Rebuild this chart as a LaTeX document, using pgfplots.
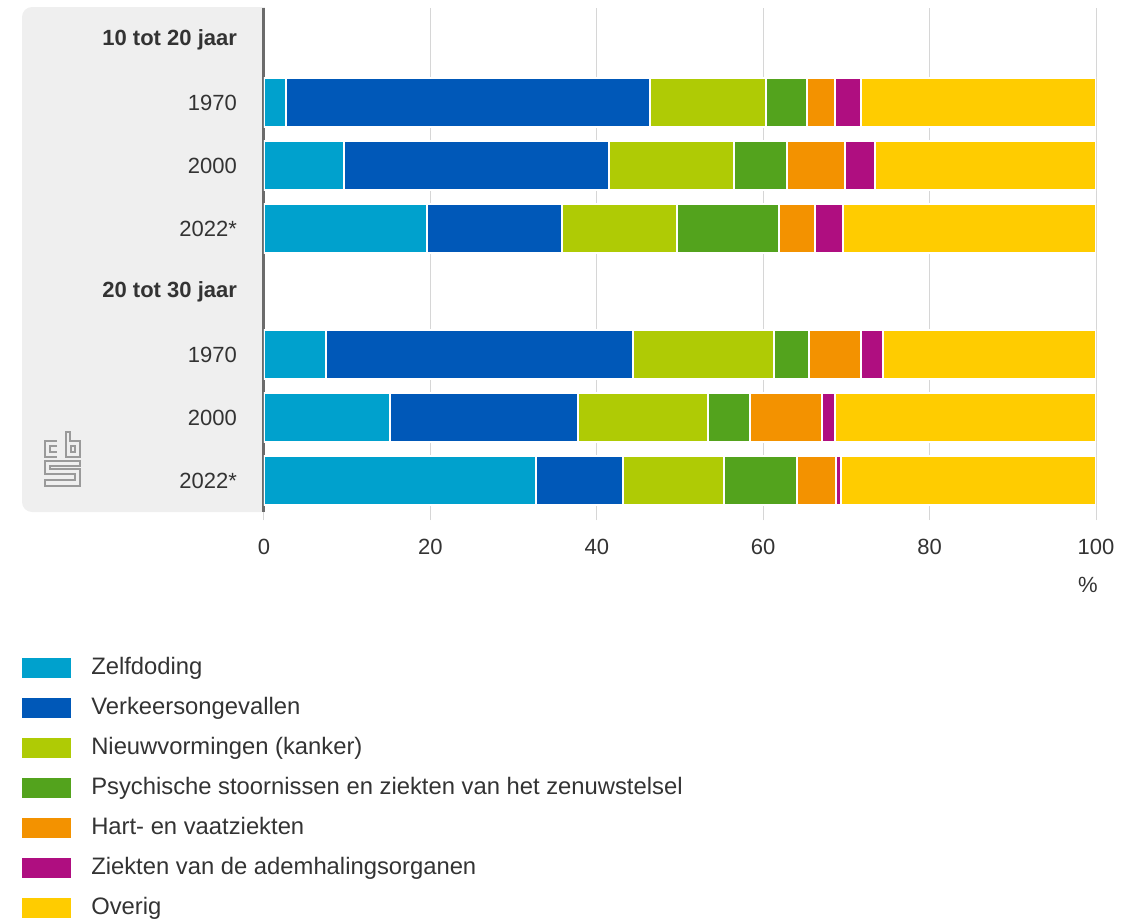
\documentclass[border=0pt]{standalone}
\usepackage{fontspec}
\setmainfont{Liberation Sans}
\usepackage{pgfplots}
\usepackage{pgfplotstable}
\pgfplotsset{compat=1.18}

\definecolor{zelf}{HTML}{00A1CD}
\definecolor{verk}{HTML}{0058B8}
\definecolor{nieuw}{HTML}{AFCB05}
\definecolor{psych}{HTML}{53A31D}
\definecolor{hart}{HTML}{F39200}
\definecolor{adem}{HTML}{AF0E80}
\definecolor{overig}{HTML}{FFCC00}
\definecolor{panel}{HTML}{EFEFEF}
\definecolor{gridgray}{HTML}{D6D6D6}
\definecolor{axisgray}{HTML}{6B6B6B}
\definecolor{logogray}{HTML}{9A9A9A}
\definecolor{txt}{HTML}{333333}

% rij, zelfdoding, verkeer, nieuwvormingen, psychisch, hart, ademhaling, overig
\pgfplotstableread{
y z v n p h a o
2 2.6 43.8 13.9 5.0 3.3 3.1 28.3
3 9.6 31.9 15.0 6.4 6.9 3.6 26.6
4 19.6 16.2 13.8 12.3 4.3 3.4 30.4
6 7.5 36.9 16.9 4.2 6.2 2.7 25.6
7 15.1 22.6 15.7 5.0 8.7 1.5 31.4
8 32.7 10.5 12.1 8.8 4.6 0.6 30.7
}\data

\begin{document}
\begin{tikzpicture}
% pixel grid of the reference: 1 px = 0.5pt, y downwards
\begin{scope}[x=0.5pt,y=-0.5pt]
\useasboundingbox (0,0) rectangle (1137,918);
\fill[panel,rounded corners=5pt] (22,7) rectangle (290,512);
\fill[white] (265,0) rectangle (300,520);
% cbs logo
\begin{scope}[draw=logogray,line width=1.1pt]
\draw (57,441) -- (45,441) -- (45,457) -- (57,457);
\draw (57,446) -- (50,446) -- (50,452) -- (57,452);
\draw (66,432) -- (66,457) -- (80,457) -- (80,441) -- (70,441) -- (70,432) -- cycle;
\draw (71,446) rectangle (75,452);
\draw (80,461) -- (45,461) -- (45,474) -- (75,474) -- (75,480) -- (45,480) -- (45,486) -- (80,486) -- (80,469) -- (50,469) -- (50,466) -- (80,466) -- cycle;
\end{scope}
\node[anchor=east, text=txt, font=\fontsize{11}{13}\selectfont, inner sep=0pt] at (1098,585) {\%};
\end{scope}
\begin{axis}[
    at={(132pt,-256pt)}, anchor=south west,
    scale only axis, width=416pt, height=252pt,
    xbar stacked, bar width=24.5pt,
    xmin=0, xmax=100, ymin=0.5, ymax=8.5, y dir=reverse,
    axis x line*=bottom, axis y line*=left,
    x axis line style={draw=none},
    y axis line style={draw=axisgray, line width=1.5pt},
    xtick={0,20,40,60,80,100},
    xmajorgrids, grid style={gridgray, line width=0.5pt},
    x tick style={gridgray, line width=0.5pt}, xtick align=outside,
    major tick length=4pt,
    ytick={1,...,8},
    yticklabels={\textbf{10 tot 20 jaar},1970,2000,2022*,\textbf{20 tot 30 jaar},1970,2000,2022*},
    y tick style={draw=none},
    ticklabel style={font=\fontsize{11}{13}\selectfont, text=txt},
    yticklabel style={xshift=-10pt},
    xticklabel style={yshift=-6pt},
    /pgf/number format/assume math mode=true,
    legend style={at={(-0.291,-0.286)}, anchor=north west, draw=none, fill=none,
        inner sep=0pt, row sep=8.5pt,
        font=\fontsize{11.9}{14}\selectfont,
        nodes={inner sep=0pt, text height=9pt, text depth=2.5pt, text=txt}},
    legend cell align=left,
    /tikz/every odd column/.append style={column sep=10pt},
    legend image code/.code={\fill[#1, draw=none] (0pt,-5pt) rectangle (24.5pt,5pt);},
]
\addplot[fill=zelf, draw=white, line width=1pt] table[x=z,y=y]{\data};
\addplot[fill=verk, draw=white, line width=1pt] table[x=v,y=y]{\data};
\addplot[fill=nieuw, draw=white, line width=1pt] table[x=n,y=y]{\data};
\addplot[fill=psych, draw=white, line width=1pt] table[x=p,y=y]{\data};
\addplot[fill=hart, draw=white, line width=1pt] table[x=h,y=y]{\data};
\addplot[fill=adem, draw=white, line width=1pt] table[x=a,y=y]{\data};
\addplot[fill=overig, draw=white, line width=1pt] table[x=o,y=y]{\data};
\legend{Zelfdoding,Verkeersongevallen,Nieuwvormingen (kanker),Psychische stoornissen en ziekten van het zenuwstelsel,Hart- en vaatziekten,Ziekten van de ademhalingsorganen,Overig}
\end{axis}
\end{tikzpicture}
\end{document}
